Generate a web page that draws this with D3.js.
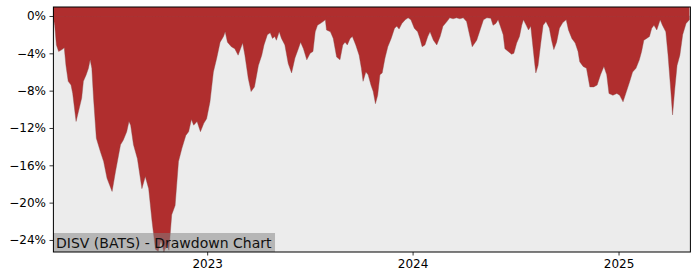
<!DOCTYPE html>
<html><head><meta charset="utf-8">
<script src="https://cdn.jsdelivr.net/npm/d3@7"></script>
<style>html,body{margin:0;padding:0;background:#fff;}svg{display:block;font-family:"DejaVu Sans",sans-serif;}</style>
</head><body><svg id="c" width="700" height="280"></svg>
<script>
const dates = ["2022-04-02","2022-04-05","2022-04-08","2022-04-12","2022-04-18","2022-04-22","2022-04-25","2022-04-29","2022-05-04","2022-05-07",
"2022-05-13","2022-05-17","2022-05-23","2022-05-26","2022-05-31","2022-06-04","2022-06-07","2022-06-10","2022-06-13","2022-06-18",
"2022-06-25","2022-07-01","2022-07-07","2022-07-16","2022-07-22","2022-07-31","2022-08-05","2022-08-11","2022-08-15","2022-08-18",
"2022-08-23","2022-08-30","2022-09-07","2022-09-13","2022-09-19","2022-09-25","2022-10-01","2022-10-06","2022-10-11","2022-10-16",
"2022-10-22","2022-10-25","2022-10-30","2022-11-05","2022-11-11","2022-11-17","2022-11-24","2022-11-29","2022-12-04","2022-12-08",
"2022-12-14","2022-12-20","2022-12-26","2022-12-31","2023-01-06","2023-01-12","2023-01-18","2023-01-24","2023-01-30","2023-02-02",
"2023-02-06","2023-02-13","2023-02-19","2023-02-25","2023-03-05","2023-03-09","2023-03-15","2023-03-20","2023-03-26","2023-04-02",
"2023-04-08","2023-04-12","2023-04-18","2023-04-23","2023-04-27","2023-05-01","2023-05-04","2023-05-09","2023-05-13","2023-05-19",
"2023-05-25","2023-05-31","2023-06-06","2023-06-12","2023-06-16","2023-06-21","2023-06-27","2023-07-03","2023-07-08","2023-07-12",
"2023-07-16","2023-07-21","2023-07-26","2023-07-30","2023-08-01","2023-08-08","2023-08-13","2023-08-19","2023-08-25","2023-08-30",
"2023-09-03","2023-09-07","2023-09-12","2023-09-16","2023-09-22","2023-09-28","2023-10-02","2023-10-05","2023-10-10","2023-10-14",
"2023-10-19","2023-10-23","2023-10-27","2023-10-31","2023-11-04","2023-11-08","2023-11-13","2023-11-18","2023-11-24","2023-11-30",
"2023-12-04","2023-12-08","2023-12-13","2023-12-19","2023-12-24","2023-12-29","2024-01-04","2024-01-10","2024-01-14","2024-01-18",
"2024-01-23","2024-01-28","2024-02-01","2024-02-07","2024-02-13","2024-02-19","2024-02-24","2024-03-02","2024-03-07","2024-03-13",
"2024-03-19","2024-03-25","2024-03-31","2024-04-06","2024-04-10","2024-04-16","2024-04-24","2024-04-30","2024-05-06","2024-05-12",
"2024-05-19","2024-05-23","2024-05-28","2024-06-01","2024-06-05","2024-06-10","2024-06-13","2024-06-19","2024-06-25","2024-06-29",
"2024-07-04","2024-07-09","2024-07-13","2024-07-16","2024-07-21","2024-07-25","2024-07-29","2024-08-01","2024-08-05","2024-08-07",
"2024-08-11","2024-08-16","2024-08-20","2024-08-25","2024-08-31","2024-09-04","2024-09-08","2024-09-13","2024-09-18","2024-09-24",
"2024-09-30","2024-10-04","2024-10-10","2024-10-16","2024-10-21","2024-10-24","2024-10-30","2024-11-05","2024-11-11","2024-11-18",
"2024-11-24","2024-11-30","2024-12-06","2024-12-11","2024-12-15","2024-12-22","2024-12-29","2025-01-03","2025-01-09","2025-01-15",
"2025-01-21","2025-01-26","2025-02-01","2025-02-07","2025-02-11","2025-02-15","2025-02-20","2025-02-25","2025-03-01","2025-03-05",
"2025-03-10","2025-03-16","2025-03-20","2025-03-26","2025-03-30","2025-04-04","2025-04-07","2025-04-11","2025-04-15","2025-04-20",
"2025-04-25","2025-05-01","2025-05-07"];
const drawdown = [0,-1.0,-3.1,-3.8,-3.6,-3.4,-5.3,-7.0,-7.4,-8.3,
-11.3,-10.3,-8.8,-7.0,-6.3,-5.6,-4.7,-5.6,-8.8,-13.1,
-14.5,-15.6,-17.4,-18.8,-16.7,-13.8,-13.3,-12.4,-11.3,-11.7,
-13.8,-15.3,-18.5,-17.2,-18.5,-22.0,-25.0,-25.2,-24.0,-25.3,
-24.4,-25.1,-21.3,-20.3,-15.6,-14.2,-12.8,-12.4,-11.1,-11.7,
-11.3,-12.4,-11.5,-11.0,-9.2,-6.0,-4.5,-2.8,-2.2,-1.7,
-2.8,-3.3,-3.5,-4.2,-2.9,-4.2,-6.7,-8.1,-7.6,-5.3,
-4.2,-3.1,-2.0,-1.8,-2.4,-2.2,-2.6,-1.7,-2.4,-3.1,
-5.1,-6.1,-4.5,-3.5,-2.8,-3.5,-4.7,-4.0,-3.8,-1.7,
-1.0,-0.8,-0.6,-0.4,-1.5,-1.7,-2.4,-4.4,-4.7,-3.1,
-2.8,-3.1,-2.4,-2.2,-3.1,-4.2,-5.6,-7.0,-6.0,-6.3,
-7.4,-8.1,-9.4,-8.5,-6.3,-6.1,-4.5,-3.3,-2.4,-1.3,
-1.1,-1.4,-0.8,-0.4,-0.2,-0.4,-1.3,-1.7,-2.4,-3.3,
-3.1,-2.2,-1.7,-2.6,-3.1,-2.2,-1.1,-0.6,-0.2,-0.3,
-0.2,-0.3,-0.2,-0.6,-1.7,-3.3,-2.6,-1.5,-0.4,-0.2,
-0.25,-1.0,-0.8,-0.4,-1.1,-2.0,-3.5,-3.8,-4.1,-4.0,
-2.9,-2.2,-1.0,-0.4,-1.0,-1.5,-1.1,-2.8,-5.1,-6.1,
-5.3,-2.8,-1.0,-0.6,-1.3,-2.6,-3.6,-2.8,-1.3,-0.7,
-0.4,-1.5,-2.4,-2.9,-3.8,-4.9,-5.4,-5.6,-7.6,-7.6,
-7.4,-6.3,-5.4,-6.3,-8.3,-8.5,-8.3,-8.5,-9.2,-8.1,
-7.0,-6.0,-5.6,-4.7,-3.8,-2.6,-2.4,-2.2,-1.3,-1.0,
-1.5,-0.4,-1.0,-1.7,-4.2,-8.1,-10.6,-7.8,-5.3,-4.2,
-2.0,-0.8,-0.4];
const yTicks = [0,-4,-8,-12,-16,-20,-24];
const xTickDates = ["2023-01-01","2024-01-01","2025-01-01"];
const xTickLabels = ["2023","2024","2025"];
const title = "DISV (BATS) - Drawdown Chart";

const parse = d3.timeParse("%Y-%m-%d");
const data = dates.map((d,i)=>({date:parse(d), v:drawdown[i]}));
const svg = d3.select("#c");
const L=53, R=690, T=7, B=252;
const x = d3.scaleTime().domain([parse("2022-04-02"), parse("2025-05-08")]).range([L,R]);
const y = d3.scaleLinear().domain([0.964,-25.29]).range([T,B]);

svg.append("rect").attr("x",L).attr("y",T).attr("width",R-L).attr("height",B-T).attr("fill","#ececec");
svg.append("defs").append("clipPath").attr("id","clip").append("rect").attr("x",L).attr("y",T).attr("width",R-L).attr("height",B-T);
const area = d3.area().x(d=>x(d.date)).y0(y(0)).y1(d=>y(d.v));
svg.append("path").datum(data).attr("clip-path","url(#clip)").attr("d",area)
  .attr("fill","#b02e2e").attr("stroke","#8a4a4a").attr("stroke-width",0.4);
svg.append("rect").attr("x",x(data[0].date)).attr("y",T).attr("width",x(data[data.length-1].date)-x(data[0].date)).attr("height",y(0)-T).attr("fill","#b02e2e");

const fmt = d => d3.format("d")(d)+"%";
const ya = svg.append("g").attr("transform",`translate(${L},0)`)
  .call(d3.axisLeft(y).tickValues(yTicks).tickFormat(fmt).tickSize(3.5).tickPadding(3.5));
const xa = svg.append("g").attr("transform",`translate(0,${B})`)
  .call(d3.axisBottom(x).tickValues(xTickDates.map(parse)).tickFormat((d,i)=>xTickLabels[i]).tickSize(3.5).tickPadding(3.5));
[ya,xa].forEach(g=>{g.select(".domain").remove(); g.selectAll("text").attr("font-size",12).attr("fill","#000").attr("font-family","DejaVu Sans"); g.selectAll("line").attr("stroke","#000").attr("stroke-width",0.8);});

const lbl = svg.append("g");
const t = lbl.append("text").attr("x",56).attr("y",247.5).attr("font-size",14).attr("fill","#111").text(title);
const bb = t.node().getBBox();
lbl.insert("rect","text").attr("x",L).attr("y",233).attr("width",bb.x+bb.width+3-L).attr("height",B-233).attr("fill","#808080").attr("fill-opacity",0.5);

svg.append("rect").attr("x",L+0.4).attr("y",T).attr("width",R-L).attr("height",B-T).attr("fill","none").attr("stroke","#000").attr("stroke-width",1);
</script></body></html>
